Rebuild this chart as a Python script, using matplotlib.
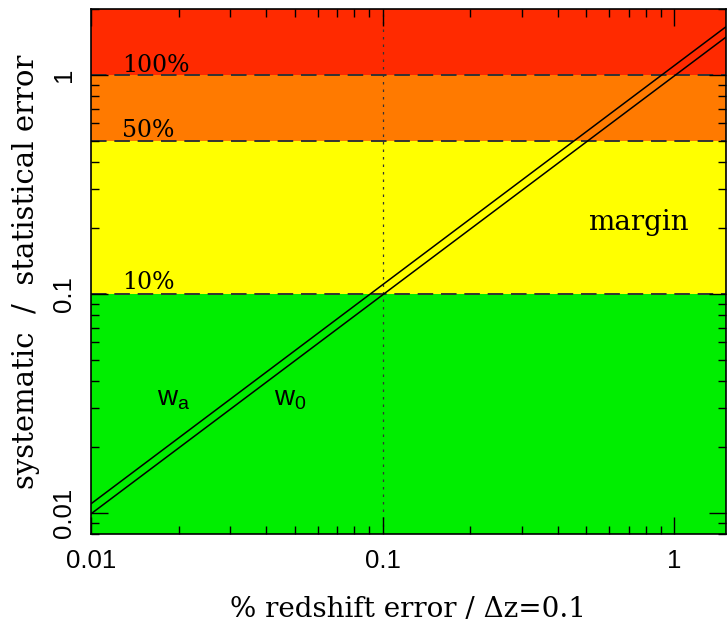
import matplotlib
matplotlib.use('Agg')
import matplotlib.pyplot as plt

plt.rcParams['mathtext.default'] = 'regular'

# redshift error grid (fraction of dz=0.1) and the two parameter curves
x_err = [0.01, 1.5]
w0_ratio = [0.0099, 1.48]
wa_ratio = [0.0110, 1.65]

# threshold levels and band colours
levels = [0.1, 0.5, 1.0]
level_labels = ['10%', '50%', '100%']
level_text_y = [0.105, 0.52, 1.03]
band_edges = [0.001, 0.1, 0.5, 1.0, 10.0]
band_colors = ['#00ee00', '#ffff00', '#ff7a00', '#ff2a00']

fig = plt.figure(figsize=(7.27, 6.27), dpi=100)
ax = fig.add_axes([0.125, 0.148, 0.873, 0.838])
ax.set_xscale('log')
ax.set_yscale('log')
ax.set_xlim(0.01, 1.5)
ax.set_ylim(0.008, 2.0)

# coloured bands
for lo, hi, c in zip(band_edges[:-1], band_edges[1:], band_colors):
    ax.axhspan(lo, hi, color=c, lw=0, zorder=0)

# dashed threshold lines
for lev in levels:
    ax.axhline(lev, color='#333333', lw=1.4, ls=(0, (8, 4)), zorder=1)

ax.axvline(0.1, color='#333333', lw=0.9, ls=(0, (2, 4)), zorder=1)

ax.plot(x_err, w0_ratio, color='black', lw=1.1, zorder=2)
ax.plot(x_err, wa_ratio, color='black', lw=1.1, zorder=2)

serif = 'DejaVu Serif'
sans = 'Liberation Sans'
for ty, lab in zip(level_text_y, level_labels):
    ax.text(0.0128, ty, lab, family=serif, fontsize=17, va='baseline', ha='left')

ax.text(0.0169, 0.031, r'w$_{a}$', family=sans, fontsize=20, va='baseline')
ax.text(0.0425, 0.031, r'w$_{0}$', family=sans, fontsize=20, va='baseline')
ax.text(0.505, 0.196, 'margin', family=serif, fontsize=20, va='baseline')

ax.set_xticks([0.01, 0.1, 1])
ax.set_xticklabels(['0.01', '0.1', '1'], family=sans)
ax.set_yticks([0.01, 0.1, 1])
ax.set_yticklabels(['0.01', '0.1', '1'], rotation=90, va='center', family=sans)
ax.tick_params(which='both', direction='in', top=True, right=True, labelsize=18.5)
ax.tick_params(which='major', length=12, width=1)
ax.tick_params(which='minor', length=6, width=1)
ax.tick_params(axis='x', pad=11)
ax.tick_params(axis='y', pad=11)

ax.set_xlabel('% redshift error / \u0394z=0.1', family=serif, fontsize=20, labelpad=16)
ax.set_ylabel('systematic  /  statistical error', family=serif, fontsize=21, labelpad=8)

for s in ax.spines.values():
    s.set_linewidth(1.2)

fig.savefig('out.png', dpi=100)
